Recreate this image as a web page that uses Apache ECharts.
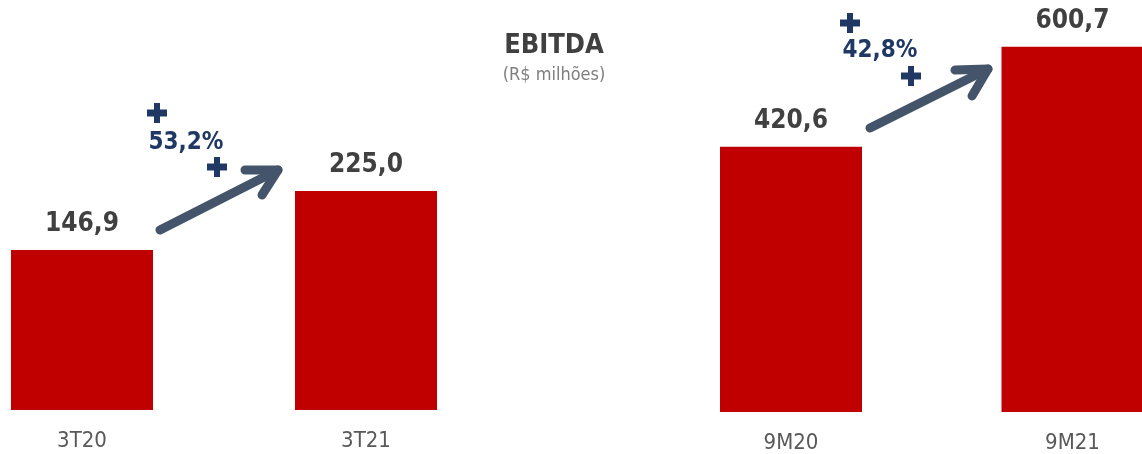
<!DOCTYPE html>
<html>
<head>
<meta charset="utf-8">
<script src="https://cdn.jsdelivr.net/npm/echarts@6/dist/echarts.min.js"></script>
<style>
  html, body { margin: 0; padding: 0; background: #fff; }
  #chart { width: 1142px; height: 454px; }
</style>
</head>
<body>
<div id="chart"></div>
<script>
// Quarterly and year-to-date EBITDA (R$ milhões)
const quarterCategories = ['3T20', '3T21'];
const quarterValues = [146.9, 225.0];
const ytdCategories = ['9M20', '9M21'];
const ytdValues = [420.6, 600.7];
const growthLabels = ['53,2%', '42,8%'];

const FONT = '"Liberation Sans Narrow", "DejaVu Sans Condensed", Roboto, sans-serif';
const RED = '#c00000';
const NAVY = '#1f3864';
const ARROW = '#44546a';

const fmt = v => v.toFixed(1).replace('.', ',');

const chart = echarts.init(document.getElementById('chart'), null, { renderer: 'canvas' });

function barSeries(axisIndex, values) {
  return {
    type: 'bar',
    xAxisIndex: axisIndex,
    yAxisIndex: axisIndex,
    data: values,
    barWidth: 142,
    clip: false,
    itemStyle: { color: RED },
    silent: true,
    label: {
      show: true,
      position: 'top',
      distance: 13,
      formatter: p => fmt(p.value),
      fontFamily: FONT,
      fontWeight: 'bold',
      fontSize: 26,
      color: '#404040'
    }
  };
}

// categories sit on the grid edges so each bar is centred on its tick
const xAxisCommon = {
  type: 'category',
  boundaryGap: false,
  axisLine: { show: false },
  axisTick: { show: false },
  axisLabel: { fontFamily: FONT, fontSize: 22, color: '#595959', margin: 20 }
};
const yAxisCommon = {
  type: 'value',
  show: false,
  splitLine: { show: false }
};

// plus badge: horizontal and vertical strokes
function plus(cx, cy) {
  return {
    type: 'group',
    x: cx, y: cy,
    children: [
      { type: 'rect', shape: { x: -10, y: -3.5, width: 20, height: 7 }, style: { fill: NAVY } },
      { type: 'rect', shape: { x: -3, y: -10, width: 6, height: 20 }, style: { fill: NAVY } }
    ]
  };
}

function arrow(x1, y1, x2, y2, w1, w2) {
  const st = { stroke: ARROW, lineWidth: 9, lineCap: 'round', lineJoin: 'round', fill: null };
  return {
    type: 'group',
    z: 10,
    children: [
      { type: 'polyline', shape: { points: [[x1, y1], [x2, y2]] }, style: st },
      { type: 'polyline', shape: { points: [w1, [x2, y2], w2] }, style: st }
    ]
  };
}

chart.setOption({
  animation: false,
  title: [{
    text: 'EBITDA',
    subtext: '(R$ milhões)',
    left: 549,
    top: 27,
    textAlign: 'center',
    itemGap: 7,
    textStyle: { fontFamily: FONT, fontWeight: 'bold', fontSize: 27, color: '#404040' },
    subtextStyle: { fontFamily: FONT, fontSize: 18, color: '#7f7f7f' }
  }],
  grid: [
    { left: 82, width: 284, top: 59, height: 351 },
    { left: 791, width: 281.5, top: 19.5, height: 392.5 }
  ],
  xAxis: [
    Object.assign({ gridIndex: 0, data: quarterCategories }, xAxisCommon),
    Object.assign({ gridIndex: 1, data: ytdCategories }, xAxisCommon)
  ],
  yAxis: [
    Object.assign({ gridIndex: 0, min: -65, max: 400, startValue: -65 }, yAxisCommon),
    Object.assign({ gridIndex: 1, min: -57, max: 650, startValue: -57 }, yAxisCommon)
  ],
  series: [barSeries(0, quarterValues), barSeries(1, ytdValues)],
  graphic: [
    arrow(160, 230, 278, 170, [245, 170], [262, 195]),
    arrow(870, 128, 988, 69, [955, 70], [972, 96]),
    plus(157, 113), plus(217, 167),
    plus(850, 23), plus(911, 76),
    { type: 'text', x: 186, y: 143, style: { text: growthLabels[0], fontFamily: FONT, fontWeight: 'bold', fontSize: 24, fill: NAVY, align: 'center', verticalAlign: 'middle' } },
    { type: 'text', x: 880, y: 51, style: { text: growthLabels[1], fontFamily: FONT, fontWeight: 'bold', fontSize: 24, fill: NAVY, align: 'center', verticalAlign: 'middle' } }
  ]
});
</script>
</body>
</html>
